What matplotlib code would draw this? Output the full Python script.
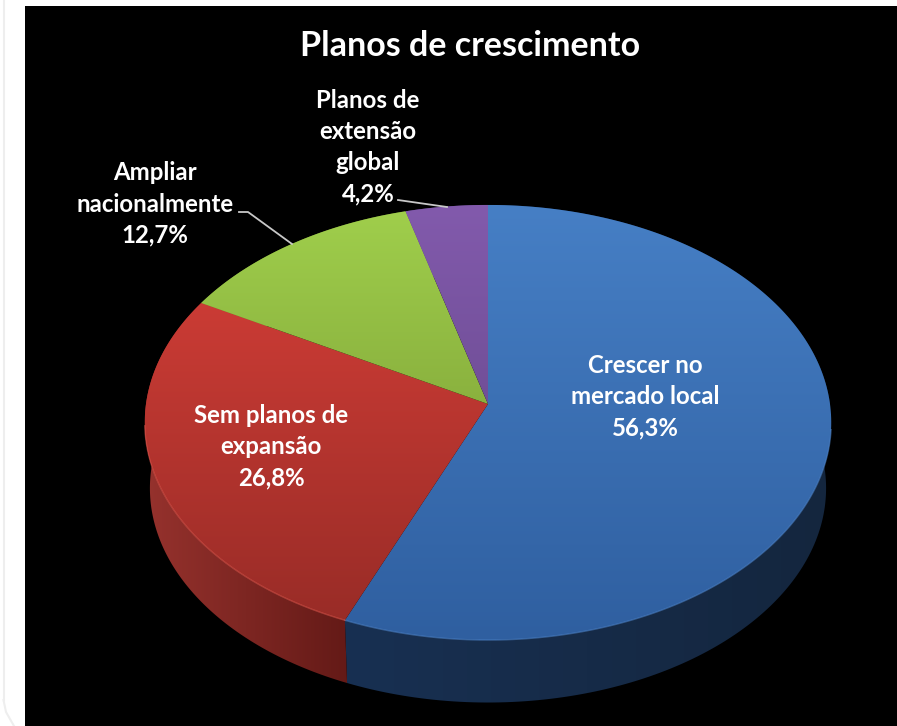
import matplotlib
matplotlib.use("Agg")
import matplotlib.pyplot as plt
from matplotlib.patches import Polygon, Rectangle
import numpy as np

#Slices, clockwise from twelve o'clock
categories = ["Crescer no\nmercado local", "Sem planos de\nexpansão", "Ampliar\nnacionalmente", "Planos de\nextensão\nglobal"]
shares = [56.3, 26.8, 12.7, 4.2]
title = "Planos de crescimento"

#Colours: top face gradient (upper, lower) and side wall gradient (left, right)
face_colors = [((70, 127, 197), (47, 95, 160)),
               ((218, 64, 57), (150, 43, 38)),
               ((160, 207, 76), (112, 142, 46)),
               ((130, 90, 172), (92, 66, 128))]
wall_colors = [((24, 48, 82), (20, 38, 62)),
               ((150, 50, 45), (100, 26, 23)),
               ((110, 140, 46), (90, 115, 38)),
               ((92, 66, 128), (75, 54, 105))]
rim_colors = ["#4f86cc", "#e2584e", "#b5dc6a", "#9a70c8"]

label_pos = [(645, 397), (271, 447), (155, 204), (368, 147)]
percent_color = "white"

W, H = 897, 726
CX, CY = 488, 404      # pie centre in pixels
RX, RY = 342, 216      # radii of the tilted disc
TILT = 0.085           # perspective strength
DEPTH = 66             # wall height
BOTTOM_SCALE = 0.985   # lower rim is a little narrower

plt.rcParams["font.family"] = ["Lato", "DejaVu Sans"]

fig = plt.figure(figsize=(W / 100, H / 100), dpi=100)
ax = fig.add_axes([0, 0, 1, 1])
ax.set_xlim(0, W)
ax.set_ylim(H, 0)
ax.axis("off")


def project(angle, bottom=False):
    '''Maps clockwise angles (radians from the top) on to the tilted disc'''
    u, v = np.sin(angle), np.cos(angle)
    d = 1 + TILT * v
    x, y = RX * u / d, -RY * v / d
    if bottom:
        return CX + x * BOTTOM_SCALE, CY + y * BOTTOM_SCALE + DEPTH
    return CX + x, CY + y


def gradient(c0, c1, clip, vertical, extent, zorder):
    '''Draws a two colour gradient over extent, clipped to the polygon clip'''
    t = np.linspace(0, 1, 256)
    rgb = np.outer(1 - t, c0) + np.outer(t, c1)
    img = rgb[:, None, :] if vertical else rgb[None, :, :]
    im = ax.imshow(img / 255, extent=extent, aspect="auto", origin="upper",
                   interpolation="bilinear", zorder=zorder)
    patch = Polygon(clip, closed=True, transform=ax.transData, facecolor="none", edgecolor="none")
    ax.add_patch(patch)
    im.set_clip_path(patch)


#Black panel and the thin page line beside it
ax.add_patch(Rectangle((25, 6), W - 25, H - 6, facecolor="black", edgecolor="none", zorder=0))
ax.plot([3.5, 3.5], [0, 700], color="#eeeeee", lw=1.5, zorder=0)
ax.plot([3.5, 6, 14], [700, 712, 726], color="#eeeeee", lw=1.5, zorder=0)

edges = np.cumsum([0] + shares) / sum(shares) * 2 * np.pi

#Side walls first, the top faces cover whatever lies behind
for i in range(len(shares)):
    a = np.linspace(edges[i], edges[i + 1], 200)
    tx, ty = project(a)
    bx, by = project(a, bottom=True)
    wall = np.vstack([np.c_[tx, ty], np.c_[bx, by][::-1]])
    x0, x1 = wall[:, 0].min(), wall[:, 0].max()
    if i == 0:
        #the blue wall only shows on the front arc
        x0, x1 = 345, 830
    gradient(wall_colors[i][0], wall_colors[i][1], wall, False, (x0, x1, 726, 0), 2)

#Top faces, with the shading running over the whole disc height
for i in range(len(shares)):
    a = np.linspace(edges[i], edges[i + 1], 200)
    tx, ty = project(a)
    face = np.vstack([[CX, CY], np.c_[tx, ty]])
    gradient(face_colors[i][0], face_colors[i][1], face, True, (100, 860, 640, 205), 3)

    #Light bevel along the front rim
    front = np.cos(a) < -0.1
    ax.plot(tx[front], ty[front], color=rim_colors[i], lw=1.0, alpha=0.55, zorder=4)

#Leader lines for the two outside labels
ax.plot([398, 447], [200, 207], color="#c8c8c8", lw=1.3, zorder=5)
ax.plot([239, 248, 292], [212, 212, 244], color="#c8c8c8", lw=1.3, zorder=5)

ax.text(470, 46, title, color="white", fontsize=24.5, fontweight="bold",
        ha="center", va="center", zorder=6)

for name, share, (x, y) in zip(categories, shares, label_pos):
    label = name + "\n" + f"{share:.1f}%".replace(".", ",")
    ax.text(x, y, label, color=percent_color, fontsize=17.3, fontweight="bold",
            ha="center", va="center", linespacing=1.43, zorder=6)

fig.savefig("out.png", dpi=100, facecolor="white")
